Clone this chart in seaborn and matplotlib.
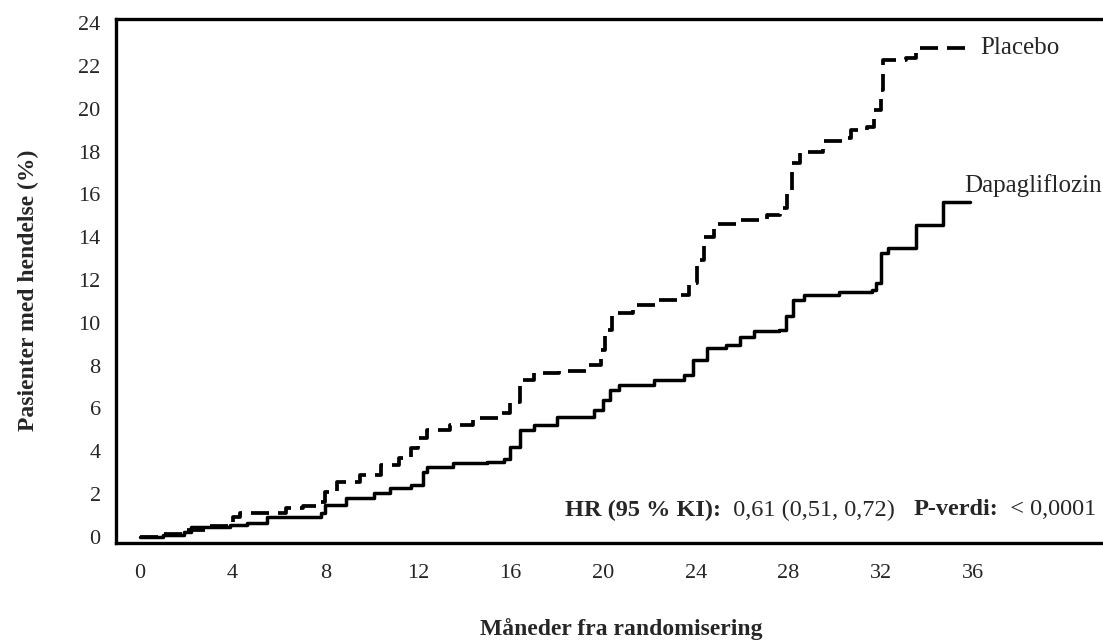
import matplotlib
matplotlib.use("Agg")
import matplotlib.pyplot as plt
import seaborn as sns
import pandas as pd

# ---- data ----
dapa_months = [0, 1.0, 1.9, 2.2, 3.9, 4.6, 5.5, 7.4, 7.8, 8.0, 8.9, 9.8, 10.1, 10.8, 11.7,
               12.2, 12.4, 13.3, 13.5, 15.0, 15.7, 16.0, 16.4, 17.0, 18.0, 19.6, 20.0, 20.3,
               20.7, 22.2, 23.5, 23.9, 24.5, 25.3, 25.9, 26.5, 27.6, 27.9, 28.2, 28.7, 30.2,
               31.6, 31.8, 32.0, 32.3, 33.5, 34.7, 35.85]
dapa_pct = [0, 0.08, 0.23, 0.47, 0.55, 0.65, 0.93, 0.93, 1.09, 1.48, 1.79, 1.79, 2.03, 2.26, 2.42,
            3.04, 3.24, 3.24, 3.43, 3.5, 3.65, 4.2, 5.0, 5.2, 5.6, 5.9, 6.4, 6.86,
            7.09, 7.33, 7.56, 8.26, 8.81, 8.96, 9.35, 9.6, 9.65, 10.3, 11.07, 11.3, 11.46,
            11.53, 11.85, 13.25, 13.48, 14.57, 15.66, 15.66]

plac_months = [0, 1.0, 2.0, 3.0, 4.0, 4.3, 6.3, 7.05, 7.6, 8.0, 8.5, 9.5, 10.4, 11.2, 11.7,
               12.0, 12.4, 13.4, 14.4, 15.55, 16.0, 16.4, 17.0, 18.1, 19.3, 19.9, 20.1, 20.4,
               21.3, 22.3, 23.3, 23.7, 24.05, 24.35, 24.8, 25.9, 27.1, 27.65, 27.95, 28.15,
               28.5, 29.5, 30.5, 30.7, 31.4, 31.7, 32.0, 32.1, 33.1, 33.5, 35.85]
plac_pct = [0, 0.15, 0.31, 0.5, 0.93, 1.09, 1.33, 1.43, 1.64, 2.1, 2.57, 2.88, 3.35, 3.66, 4.13,
            4.6, 4.99, 5.22, 5.53, 5.77, 6.31, 7.33, 7.64, 7.76, 8.03, 8.73, 9.66, 10.44,
            10.83, 11.07, 11.3, 11.85, 12.94, 14.03, 14.6, 14.8, 15.04, 15.35, 16.2, 17.46,
            18.0, 18.51, 18.62, 19.0, 19.17, 19.95, 20.88, 22.29, 22.37, 22.83, 22.83]

series_names = ["Placebo", "Dapagliflozin"]
x_ticks = [0, 4, 8, 12, 16, 20, 24, 28, 32, 36]
y_ticks = [0, 2, 4, 6, 8, 10, 12, 14, 16, 18, 20, 22, 24]
x_label = "Måneder fra randomisering"
y_label = "Pasienter med hendelse (%)"
hr_parts = [("HR (95 % KI):", "bold"), ("  0,61 (0,51, 0,72)   ", "normal"),
            ("P-verdi:", "bold"), ("  < 0,0001", "normal")]

# ---- plotting ----
sns.set_style("white")
plt.rcParams["font.family"] = ["Liberation Serif", "DejaVu Serif"]

fig = plt.figure(figsize=(11.03, 6.41), dpi=100)
ax = fig.add_axes([116 / 1103, 98.3 / 641, 1000 / 1103, 523.7 / 641])

dp = pd.DataFrame({"month": plac_months, "pct": plac_pct})
dd = pd.DataFrame({"month": dapa_months, "pct": dapa_pct})

sns.lineplot(data=dp, x="month", y="pct", ax=ax, color="black", linewidth=2.7,
             drawstyle="steps-post", dashes=False, estimator=None, sort=False,
             linestyle=(0, (4.8, 2.4)))
sns.lineplot(data=dd, x="month", y="pct", ax=ax, color="black", linewidth=2.5,
             drawstyle="steps-post", estimator=None, sort=False)

ax.set_xlim(-1.04, -1.04 + 1000 / 23.15)
ax.set_ylim(-0.28, 24.2)
ax.set_xticks(x_ticks)
ax.set_yticks(y_ticks)
ax.tick_params(axis="both", direction="out", length=8, width=2.4, color="black",
               labelsize=16)
ax.tick_params(axis="x", pad=7)
ax.tick_params(axis="y", pad=3)

for s in ["left", "bottom", "top", "right"]:
    ax.spines[s].set_color("black")
    ax.spines[s].set_linewidth(2.4)
ax.grid(False)

ax.set_xlabel(x_label, fontsize=17, fontweight="bold", va="center")
ax.set_ylabel(y_label, fontsize=17, fontweight="bold", va="center")
ax.xaxis.set_label_coords(0.505, -0.164)
ax.yaxis.set_label_coords(-0.088, 0.4825)

ax.text(36.3, 22.85, series_names[0], fontsize=18, ha="left", va="center")
ax.text(35.6, 16.4, series_names[1], fontsize=18, ha="left", va="center")

# annotation chained from right to left
prev = None
for txt, wt in reversed(hr_parts):
    if prev is None:
        prev = ax.text(41.3, 1.25, txt, fontsize=17.5, fontweight=wt, ha="right", va="center")
    else:
        prev = ax.annotate(txt, xy=(0, 0.5), xycoords=prev, ha="right", va="center",
                           fontsize=17.5, fontweight=wt)

fig.savefig("out.png", dpi=100)
